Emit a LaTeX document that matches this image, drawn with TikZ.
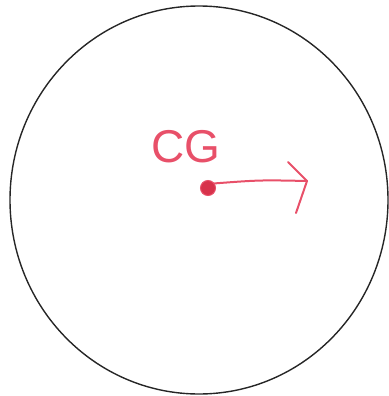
\documentclass[tikz,border=0pt]{standalone}
\usepackage{fontspec}
\setmainfont{Liberation Sans}
\usetikzlibrary{shapes.geometric}
\definecolor{pen}{RGB}{232,80,105}
\definecolor{pendark}{RGB}{215,50,75}
\tikzset{
  outline/.style={draw=black!85, line width=1.4pt},
  redpen/.style={draw=pen, line width=2pt, line cap=round, line join=round},
  lbl/.style={text=pen, font=\fontsize{46}{46}\selectfont, inner sep=0pt}
}
\begin{document}
\begin{tikzpicture}[x=1pt,y=-1pt]
\useasboundingbox (0,0) rectangle (388,396);
\node[outline, ellipse, minimum width=378pt, minimum height=388pt, inner sep=0pt] (body) at (199,200) {};
\node[circle, fill=pendark, draw=pen, line width=1pt, minimum size=15pt, inner sep=0pt] (cg) at (208,188) {};
\node[lbl] (lab) at (186,147) {CG};
\coordinate (tip) at (307,181);
\coordinate (barb1) at (288,162);
\coordinate (barb2) at (296,213);
\draw[redpen] (cg.35) .. controls (260,180) .. (tip);
\draw[redpen] (barb1) -- (tip) -- (barb2);
\end{tikzpicture}
\end{document}
